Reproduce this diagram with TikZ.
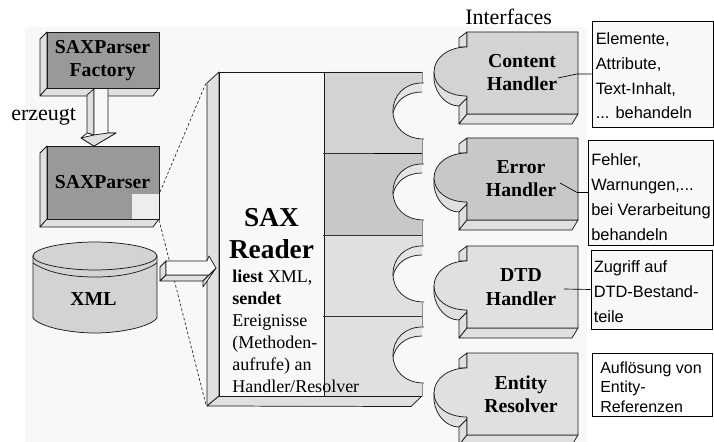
\documentclass[tikz,border=0pt]{standalone}
\usepackage{fontspec}
\setmainfont{Liberation Serif}
\newfontfamily\arialish{Liberation Sans}
\definecolor{bgpale}{HTML}{F8F8F8}
\definecolor{bevel}{HTML}{E0E0E0}
\definecolor{boxdark}{HTML}{999999}
\definecolor{shadeA}{HTML}{D3D3D3}
\definecolor{shadeB}{HTML}{C8C8C8}
\definecolor{shadeC}{HTML}{E0E0E0}
\definecolor{crescent}{HTML}{E4E4E4}
\tikzset{
  outline/.style={draw=black!90,line width=0.55pt,line join=round},
  softline/.style={draw=black!80,line width=0.55pt,line join=round},
  headtext/.style={font=\bfseries\fontsize{14.8}{17.25}\selectfont,align=center,inner sep=0pt,anchor=base},
  serifbig/.style={font=\fontsize{16.5}{20}\selectfont,inner sep=0pt,anchor=base west},
  notebox/.style={draw=black,line width=0.6pt,fill=bgpale,inner sep=0pt},
  notetext/.style={font=\arialish\fontsize{12.3}{18.7}\selectfont,align=left,inner sep=0pt,anchor=base west},
  leader/.style={draw=black,line width=0.5pt},
  dotline/.style={draw=black!85,line width=0.5pt,dash pattern=on 2pt off 1.6pt}
}
\newcommand{\bevelbox}[4]{% x1 y1 x2 y2 front corners
  \fill[bevel,outline] (#1-7,#2+7) -- (#1,#2) -- (#1,#4) -- (#1-7,#4+8) -- cycle;
  \fill[bevel,outline] (#1-7,#4+8) -- (#1,#4) -- (#3,#4) -- (#3-6,#4+8) -- cycle;
}
\newcommand{\readerpanel}[3]{% top y, bottom y, colour
  \fill[#3] (324,#1) -- (422,#1) -- (422,#1+11) .. controls (405,#1+11) and (393,#1+23) .. (393,#1+39)
     .. controls (393,#1+55) and (405,#1+67) .. (422,#1+67) -- (422,#2) -- (324,#2) -- cycle;
  \fill[bgpale] (422,#1+20) .. controls (407,#1+20) and (396,#1+28) .. (393,#1+41)
     .. controls (393,#1+55) and (405,#1+67) .. (422,#1+67) -- cycle;
  \fill[crescent] (422,#1+11) .. controls (405,#1+11) and (393,#1+23) .. (393,#1+39) -- (393,#1+41)
     .. controls (396,#1+28) and (407,#1+20) .. (422,#1+20) -- cycle;
  \draw[outline] (424,#1+11) -- (422,#1+11) .. controls (405,#1+11) and (393,#1+23) .. (393,#1+39)
     .. controls (393,#1+55) and (405,#1+67) .. (424,#1+67);
  \draw[outline] (393,#1+41) .. controls (396,#1+28) and (407,#1+20) .. (422,#1+20);
  \draw[draw=black!45,line width=0.6pt] (422,#1) -- (422,#1+11) (422,#1+67) -- (422,#2);
}
\newcommand{\handlerpiece}[2]{% y offset, colour
  \begin{scope}[yshift={-0.75pt*(#1)}]
    \fill[bevel,outline] (459,47) -- (459,38) -- (467,32) -- (467,47) -- cycle;
    \fill[bevel,outline] (434,72) -- (434,80) .. controls (436,95) and (447,106) .. (459,106)
       -- (467,106) -- (467,96) -- cycle;
    \fill[bevel,outline] (459,106) -- (467,98) -- (467,114) -- (459,124) -- cycle;
    \fill[bevel,outline] (459,124) -- (467,114) -- (578,114) -- (572,124) -- cycle;
    \fill[#2,outline] (467,32) -- (578,32) -- (578,114) -- (467,114) -- (467,96)
       .. controls (448,96) and (434,86) .. (434,72)
       .. controls (434,58) and (448,47) .. (467,47) -- cycle;
  \end{scope}
}
\begin{document}
\begin{tikzpicture}[x=0.75pt,y=-0.75pt]
\useasboundingbox (0,0) rectangle (714,442);
\fill[white] (0,0) rectangle (714,442);
\fill[bgpale] (25,27) rectangle (587,442);

% dotted zoom lines
\coordinate (zoomA) at (160,192);
\coordinate (zoomB) at (159,220);
\coordinate (readerTL) at (206,83);
\coordinate (readerBL) at (206,405);
\draw[dotline] (zoomA) -- (readerTL);
\draw[dotline] (zoomB) -- (readerBL);

% SAXParser Factory
\bevelbox{47}{32}{159}{88}
\fill[boxdark,outline] (47,32) rectangle (159,88);
\node[headtext] (factory) at (102.5,77) {SAXParser\\Factory};

% SAXParser
\bevelbox{47}{146}{159}{219}
\fill[boxdark,outline] (47,146) rectangle (159,219);
\fill[black!7] (132,194) rectangle (158.6,218.6);
\node[headtext] (parser) at (102.5,189) {SAXParser};

% Down arrow
\fill[bevel,outline] (87,95) -- (94,89) -- (94,135) -- (87,133) -- cycle;
\fill[bgpale,outline] (94,88.5) -- (108,88.5) -- (108,133) -- (116,133) -- (94,146) -- (81,138) -- (87,133) -- (94,135) -- cycle;
\fill[bevel,outline] (81,138) -- (94,135) -- (108,133) -- (116,133) -- (94,146) -- cycle;

% XML cylinder
\fill[shadeA,outline] (33,256) -- (33,318) .. controls (40,327) and (70,333) .. (95,333)
   .. controls (120,333) and (150,327) .. (157,318) -- (157,256) -- cycle;
\fill[shadeA,outline] (33,256) .. controls (33,248) and (65,242) .. (95,242)
   .. controls (125,242) and (157,248) .. (157,256)
   .. controls (157,264) and (125,270) .. (95,270)
   .. controls (65,270) and (33,264) .. (33,256) -- cycle;
\draw[outline] (33,263) .. controls (45,271) and (65,277) .. (95,277)
   .. controls (125,277) and (145,271) .. (157,263);
\node[headtext] (xml) at (93.5,305) {XML};

% SAX Reader
\fill[bevel,outline] (207,83) -- (219,72) -- (219,396) -- (207,406) -- cycle;
\fill[bevel,outline] (207,406) -- (219,396) -- (422,396) -- (411,406.5) -- cycle;
\fill[bgpale] (219,72) rectangle (324,396);
\readerpanel{72}{153}{shadeA}
\readerpanel{153}{235}{shadeB}
\readerpanel{235}{316}{shadeC}
\readerpanel{316}{396}{shadeC}
\draw[outline] (219,72) -- (422,72);
\draw[outline] (219,72) -- (219,396) -- (422,396);
\draw[outline] (324,72) -- (324,396);
\draw[softline] (323,153) -- (422,153);
\draw[draw=black,line width=1pt] (374,153.5) -- (422,153.5);
\draw[softline] (323,235) -- (422,235);
\draw[softline] (323,316) -- (422,316);

% Right arrow
\fill[bevel,outline] (160,267) -- (166,261) -- (166,275) -- (160,281) -- cycle;
\fill[bevel,outline] (160,281) -- (166,275) -- (209,275) -- (203,281) -- cycle;
\fill[bevel,outline] (209,275) -- (216,268) -- (203,287) -- (203,281) -- cycle;
\fill[bgpale,outline] (166,261) -- (207,261) -- (209,256) -- (216,268) -- (209,275) -- (166,275) -- cycle;

\node[font=\bfseries\fontsize{20.5}{23.5}\selectfont,align=center,inner sep=0pt,anchor=base] (saxreader) at (271.5,258) {SAX\\Reader};
\node[font=\fontsize{13.5}{16.4}\selectfont,align=left,inner sep=0pt,anchor=base west] (readertext) at (232,392)
  {\textbf{liest} XML,\\\textbf{sendet}\\Ereignisse\\(Methoden-\\aufrufe) an\\Handler/Resolver};

% Handlers
\handlerpiece{0}{shadeA}
\handlerpiece{106}{shadeB}
\handlerpiece{214}{shadeC}
\handlerpiece{321}{shadeC}
\node[headtext] (content) at (522,91) {Content\\Handler};
\node[headtext] (error) at (521,197) {Error\\Handler};
\node[headtext] (dtd) at (521,305) {DTD\\Handler};
\node[headtext] (entity) at (521,412) {Entity\\Resolver};

% Notes
\node[notebox,minimum width=90.75pt,minimum height=79.5pt] (noteA) at (652.5,74) {};
\node[notebox,minimum width=94.2pt,minimum height=78.75pt] (noteB) at (651,192.5) {};
\node[notebox,minimum width=90.75pt,minimum height=59.25pt] (noteC) at (651.5,289.5) {};
\node[notebox,fill=white,minimum width=90pt,minimum height=47.25pt] (noteD) at (652,384.5) {};
\node[notetext] (noteAtext) at (595.5,119) {Elemente,\\Attribute,\\Text-Inhalt,\\... behandeln};
\node[notetext] (noteBtext) at (591,240) {Fehler,\\Warnungen,...\\bei Verarbeitung\\behandeln};
\node[notetext] (noteCtext) at (593.5,322) {Zugriff auf\\DTD-Bestand-\\teile};
\node[notetext,font=\arialish\fontsize{12}{14.6}\selectfont] (noteDtext) at (600,412) {Auflösung von\\Entity-\\Referenzen};

% Leaders
\coordinate (leadA) at (558,78);
\coordinate (kneeA) at (577,74);
\coordinate (leadB) at (560,183);
\coordinate (kneeB) at (577,192.5);
\coordinate (leadC) at (564,289);
\draw[leader] (leadA) -- (kneeA) -- (noteA.west);
\draw[leader] (leadB) -- (kneeB) -- (noteB.west);
\draw[leader] (leadC) -- (noteC.west);

% Free labels
\node[serifbig] (erzeugt) at (11,121) {erzeugt};
\node[serifbig] (interfaces) at (465,25) {Interfaces};
\end{tikzpicture}
\end{document}
